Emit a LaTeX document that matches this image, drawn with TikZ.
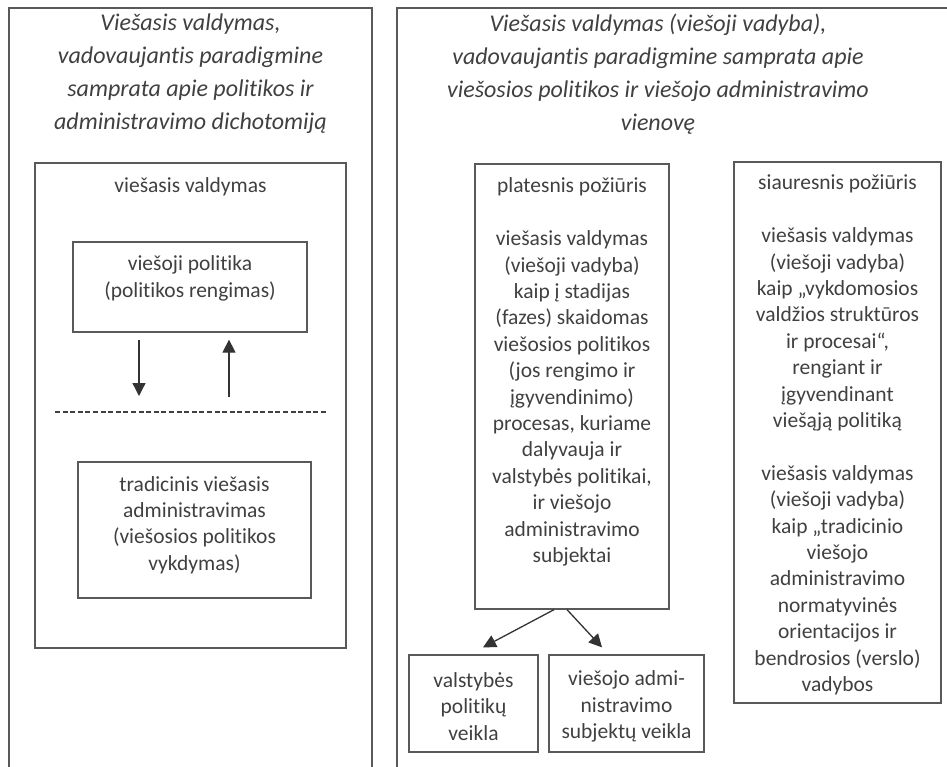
\documentclass[tikz,border=0pt]{standalone}
\usepackage{fontspec}
\setmainfont{Carlito}[Ligatures={NoCommon,NoContextual,NoRequired,NoRare}]
\usetikzlibrary{arrows.meta}

\definecolor{linegray}{HTML}{595959}
\definecolor{textgray}{HTML}{404040}

\tikzset{
  frame/.style={draw=linegray, line width=2.2pt},
  box/.style={draw=linegray, line width=1.3pt, inner sep=0pt},
  body/.style={text=textgray, align=center, inner sep=0pt,
    font=\fontsize{21.5}{26.4}\selectfont},
  heading/.style={text=textgray, align=center, inner sep=0pt,
    font=\fontsize{24}{33}\selectfont\itshape},
  link/.style={draw=black!80, line width=1.3pt,
    -{Triangle[length=13pt,width=13pt]}},
}

\begin{document}
\begin{tikzpicture}[x=1pt,y=-1pt]
    \useasboundingbox (0,0) rectangle (947,767);
    \clip (0,0) rectangle (947,767);

    % outer frames, cut off by the page
    \draw[frame] (9,790) -- (9,8) -- (372,8) -- (372,790);
    \draw[frame] (397,790) -- (397,8) -- (970,8);

    \node[heading] (lefttitle) at (190.5,74) {Viešasis valdymas,\\ vadovaujantis paradigmine\\ samprata apie politikos ir\\ administravimo dichotomiją};
    \node[heading] (righttitle) at (658,74) {Viešasis valdymas (viešoji vadyba),\\ vadovaujantis paradigmine samprata apie\\ viešosios politikos ir viešojo administravimo\\ vienovę};

    % left: dichotomy
    \node[box, minimum width=311pt, minimum height=485pt] (gov) at (190.5,405.5) {};
    \node[body] (govlabel) at (190.5,187) {viešasis valdymas};

    \node[box, minimum width=234pt, minimum height=90pt] (policy) at (190,287) {};
    \node[body] (policytext) at (190,278.5) {viešoji politika\\ (politikos rengimas)};

    \node[box, minimum width=233pt, minimum height=136pt] (trad) at (194.5,530) {};
    \node[body] (tradtext) at (194.5,525) {tradicinis viešasis\\ administravimas\\ (viešosios politikos\\ vykdymas)};

    \coordinate (dashl) at (55,412);
    \coordinate (dashr) at (326,412);
    \draw[black!75, line width=1.2pt, dash pattern=on 5pt off 2.6pt] (dashl) -- (dashr);

    \coordinate (downend) at (139,396);
    \coordinate (upstart) at (229,397);
    \draw[link] ([shift={(-51,7)}]policy.south) -- (downend);
    \draw[link] (upstart) -- ([shift={(39,7)}]policy.south);

    % right: unity
    \node[box, minimum width=194pt, minimum height=445pt] (broad) at (572,386.5) {};
    \node[body] (broadtext) at (572,372) {platesnis požiūris\\[26.4pt]
      viešasis valdymas\\ (viešoji vadyba)\\ kaip į stadijas\\ (fazes) skaidomas\\
      viešosios politikos\\ (jos rengimo ir\\ įgyvendinimo)\\ procesas, kuriame\\
      dalyvauja ir\\ valstybės politikai,\\ ir viešojo\\ administravimo\\ subjektai};

    \node[box, minimum width=207pt, minimum height=541pt] (narrow) at (837.5,432.5) {};
    \node[body] (narrowtext) at (837.5,435) {siauresnis požiūris\\[26.4pt]
      viešasis valdymas\\ (viešoji vadyba)\\ kaip „vykdomosios\\ valdžios struktūros\\
      ir procesai“,\\ rengiant ir\\ įgyvendinant\\ viešąją politiką\\[26.4pt]
      viešasis valdymas\\ (viešoji vadyba)\\ kaip „tradicinio\\ viešojo\\
      administravimo\\ normatyvinės\\ orientacijos ir\\ bendrosios (verslo)\\ vadybos};

    \node[box, minimum width=129pt, minimum height=97pt] (state) at (473.5,703.5) {};
    \node[body] (statetext) at (473.5,706.5) {valstybės\\ politikų\\ veikla};

    \node[box, minimum width=155pt, minimum height=97pt] (admin) at (626.5,703.5) {};
    \node[body] (admintext) at (626.5,706.5) {viešojo admi-\\ nistravimo\\ subjektų veikla};

    \draw[link] ([xshift=-18pt]broad.south) -- ([shift={(9.5,-7)}]state.north);
    \draw[link] ([xshift=-5pt]broad.south) -- ([shift={(-24.5,-7)}]admin.north);
\end{tikzpicture}
\end{document}
